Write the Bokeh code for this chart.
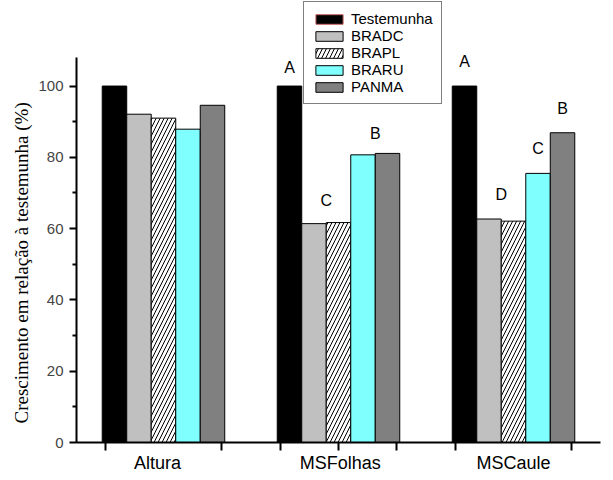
from bokeh.plotting import figure
from bokeh.models import (ColumnDataSource, Range1d, FixedTicker, Legend, LegendItem, Title)
from bokeh.core.properties import value
from bokeh.embed import file_html
from bokeh.resources import INLINE

# ---- data ----
categories = ["Altura", "MSFolhas", "MSCaule"]
series = ["Testemunha", "BRADC", "BRAPL", "BRARU", "PANMA"]
testemunha = [100.0, 100.0, 100.0]
bradc = [92.1, 61.4, 62.7]
brapl = [91.0, 61.7, 62.1]
braru = [87.9, 80.7, 75.5]
panma = [94.6, 81.1, 86.9]
y_ticks = [0, 20, 40, 60, 80, 100]
y_minor = [10, 30, 50, 70, 90]
y_title = "Crescimento em relação à testemunha (%)"

# significance letters: (text, group index, position in bar units, y)
letter_text = ["A", "C", "B", "A", "D", "C", "B"]
letter_group = [2, 2, 2, 3, 3, 3, 3]
letter_slot = [-2.0, -0.5, 1.5, -2.0, -0.5, 1.0, 2.0]
letter_y = [105.3, 67.8, 86.6, 107.0, 69.5, 82.4, 93.8]

values = [testemunha, bradc, brapl, braru, panma]
fills = ["black", "#C0C0C0", "white", "#80FFFF", "#808080"]
hatches = [None, None, "right_diagonal_line", None, None]

group_x = [1, 2, 3]
bar_w = 0.14

p = figure(frame_width=524, frame_height=442, output_backend="svg",
           toolbar_location=None,
           x_range=Range1d(0.503, 3.497), y_range=Range1d(0, 124.0),
           min_border_left=76, min_border_right=8, min_border_top=0,
           min_border_bottom=30)
p.outline_line_color = None
p.grid.visible = False

for i, (name, vals) in enumerate(zip(series, values)):
    xs = [g + (i - 2) * bar_w for g in group_x]
    src = ColumnDataSource(dict(x=xs, top=vals))
    kw = dict(x="x", top="top", width=bar_w, source=src,
              fill_color=fills[i], line_color="black", line_width=1)
    if hatches[i]:
        kw.update(hatch_pattern=hatches[i], hatch_color="black",
                  hatch_scale=8, hatch_weight=1)
    p.vbar(**kw)

# legend proxies (placed outside the visible x range)
leg_items = []
for i, name in enumerate(series):
    kw = dict(x=[-10], top=[0], width=bar_w, fill_color=fills[i],
              line_color="#CC6666" if i == 0 else "black", line_width=1)
    if hatches[i]:
        kw.update(hatch_pattern=hatches[i], hatch_color="black",
                  hatch_scale=8, hatch_weight=1)
    r = p.vbar(**kw)
    leg_items.append(LegendItem(label=name, renderers=[r]))

legend = Legend(items=leg_items, location=(227, 338),
                border_line_color="black", border_line_width=1,
                background_fill_color="white", background_fill_alpha=1,
                label_text_font="Liberation Sans", label_text_font_size="15px",
                label_text_color="black",
                glyph_width=34, glyph_height=12, label_height=17,
                spacing=0, padding=8, margin=0, label_standoff=5)
p.add_layout(legend)

# letters
lx = [group_x[g - 1] + s * bar_w for g, s in zip(letter_group, letter_slot)]
lsrc = ColumnDataSource(dict(x=lx, y=letter_y, t=letter_text))
p.text(x="x", y="y", text="t", source=lsrc, text_align="center",
       text_baseline="middle", text_font=value("Liberation Sans"),
       text_font_size="16px", text_color="black")

# x axis
xa = p.xaxis[0]
label_pos = [0.966, 2.01, 3.0]
xa.ticker = FixedTicker(ticks=label_pos,
                        minor_ticks=[g + d for g in group_x for d in (-0.333, 0.333)] + [2.0])
xa.major_label_overrides = {k: c for k, c in zip(label_pos, categories)}
xa.major_tick_line_color = None
xa.major_tick_out = 0
xa.major_tick_in = 0
xa.minor_tick_line_color = "black"
xa.minor_tick_line_width = 2
xa.minor_tick_out = 8
xa.minor_tick_in = 0
xa.axis_line_width = 2
xa.axis_line_color = "black"
xa.major_label_standoff = 2
xa.major_label_text_font = "Liberation Sans"
xa.major_label_text_font_size = "18px"
xa.major_label_text_color = "black"

# y axis
ya = p.yaxis[0]
ya.bounds = (0, 108)
ya.ticker = FixedTicker(ticks=y_ticks, minor_ticks=y_minor)
ya.axis_line_width = 2
ya.axis_line_color = "black"
ya.major_tick_line_width = 2
ya.major_tick_out = 7
ya.major_tick_in = 0
ya.minor_tick_line_width = 2
ya.minor_tick_out = 4
ya.minor_tick_in = 0
ya.major_label_standoff = 6
ya.major_label_text_font = "Liberation Sans"
ya.major_label_text_font_size = "15px"
ya.major_label_text_color = "#444444"

# y title as a side title, so it can sit lower than the frame centre
title = Title(text=y_title, align="left", offset=19, standoff=8,
              text_font="Liberation Serif", text_font_style="normal",
              text_font_size="19px", text_color="black")
p.add_layout(title, "left")

open("out.html", "w").write(file_html(p, INLINE))
